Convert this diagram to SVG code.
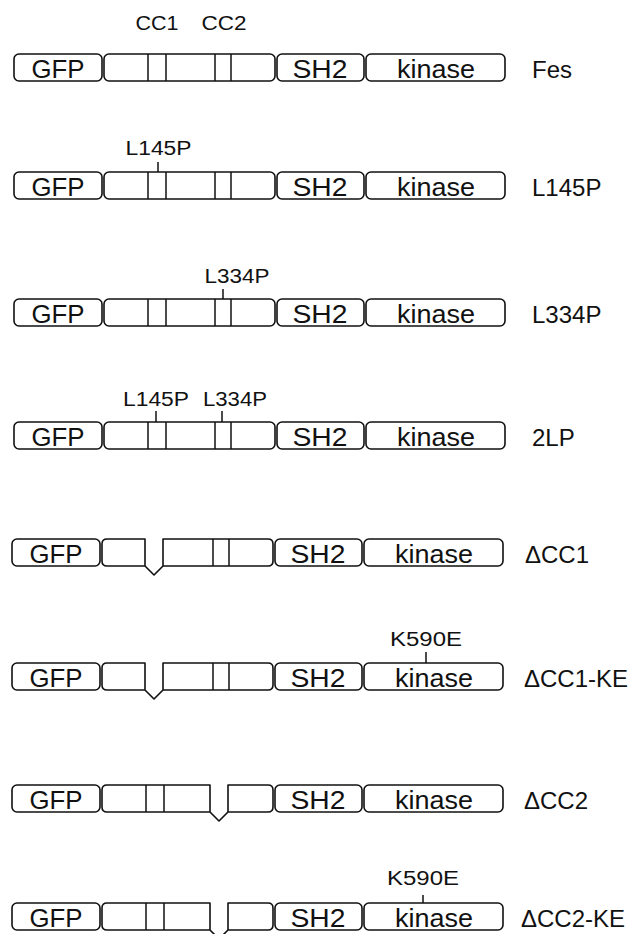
<svg xmlns="http://www.w3.org/2000/svg" xmlns:xlink="http://www.w3.org/1999/xlink" width="644" height="934" viewBox="0 0 644 934">
  <style>
    .b{fill:none;stroke:#111;stroke-width:1.6;stroke-linejoin:round}
    .d{stroke:#111;stroke-width:1.5}
    .t{font-family:"Liberation Sans",Arial,Helvetica,sans-serif;fill:#111}
    .in{font-size:25px;text-anchor:middle}
    .lab{font-size:24px}
    .mut{font-size:20px;text-anchor:middle}
  </style>
  <defs>
    <g id="gfp">
      <rect class="b" x="14" y="0" width="88" height="27" rx="5"/>
      <text class="t in" x="58" y="24" textLength="53" lengthAdjust="spacingAndGlyphs">GFP</text>
    </g>
    <rect id="mid" class="b" x="104" y="0" width="171" height="27" rx="5"/>
    <g id="cc1"><line class="d" x1="148" y1="0" x2="148" y2="27"/><line class="d" x1="166" y1="0" x2="166" y2="27"/></g>
    <g id="cc2"><line class="d" x1="215" y1="0" x2="215" y2="27"/><line class="d" x1="231" y1="0" x2="231" y2="27"/></g>
    <g id="sh2">
      <rect class="b" x="277" y="0" width="87" height="27" rx="5"/>
      <text class="t in" x="320" y="24" textLength="55" lengthAdjust="spacingAndGlyphs">SH2</text>
    </g>
    <g id="kin">
      <rect class="b" x="366" y="0" width="139" height="27" rx="5"/>
      <text class="t in" x="436" y="24" textLength="78" lengthAdjust="spacingAndGlyphs">kinase</text>
    </g>
    <!-- middle region with CC1 removed: two segments joined by a V notch -->
    <path id="dcc1" class="b" d="M147,0 H109 Q104,0 104,5 V22 Q104,27 109,27 H147 Z M147,27 L156,36 L165,27 M165,0 H270 Q275,0 275,5 V22 Q275,27 270,27 H165 Z"/>
    <!-- middle region with CC2 removed -->
    <path id="dcc2" class="b" d="M212,0 H109 Q104,0 104,5 V22 Q104,27 109,27 H212 Z M212,27 L221,36 L230,27 M230,0 H270 Q275,0 275,5 V22 Q275,27 270,27 H230 Z"/>
  </defs>

  <!-- coiled-coil headers -->
  <g id="header">
    <text class="t mut" x="157" y="30" font-size="19" textLength="43" lengthAdjust="spacingAndGlyphs">CC1</text>
    <text class="t mut" x="224" y="30" font-size="19" textLength="45" lengthAdjust="spacingAndGlyphs">CC2</text>
  </g>

  <g id="row-fes" transform="translate(0,54)">
    <use xlink:href="#gfp"/><use xlink:href="#mid"/><use xlink:href="#cc1"/><use xlink:href="#cc2"/><use xlink:href="#sh2"/><use xlink:href="#kin"/>
    <text class="t lab" x="532" y="24">Fes</text>
  </g>

  <g id="row-l145p" transform="translate(0,172)">
    <use xlink:href="#gfp"/><use xlink:href="#mid"/><use xlink:href="#cc1"/><use xlink:href="#cc2"/><use xlink:href="#sh2"/><use xlink:href="#kin"/>
    <line class="d" x1="158" y1="-10" x2="158" y2="0"/>
    <text class="t mut" x="158.5" y="-17" textLength="66" lengthAdjust="spacingAndGlyphs">L145P</text>
    <text class="t lab" x="532" y="24">L145P</text>
  </g>

  <g id="row-l334p" transform="translate(0,299)">
    <use xlink:href="#gfp"/><use xlink:href="#mid"/><use xlink:href="#cc1"/><use xlink:href="#cc2"/><use xlink:href="#sh2"/><use xlink:href="#kin"/>
    <line class="d" x1="223" y1="-10" x2="223" y2="0"/>
    <text class="t mut" x="237" y="-16" textLength="65" lengthAdjust="spacingAndGlyphs">L334P</text>
    <text class="t lab" x="532" y="24">L334P</text>
  </g>

  <g id="row-2lp" transform="translate(0,422)">
    <use xlink:href="#gfp"/><use xlink:href="#mid"/><use xlink:href="#cc1"/><use xlink:href="#cc2"/><use xlink:href="#sh2"/><use xlink:href="#kin"/>
    <line class="d" x1="156" y1="-11" x2="156" y2="0"/>
    <line class="d" x1="222" y1="-11" x2="222" y2="0"/>
    <text class="t mut" x="156" y="-16" textLength="66" lengthAdjust="spacingAndGlyphs">L145P</text>
    <text class="t mut" x="235" y="-16" textLength="64" lengthAdjust="spacingAndGlyphs">L334P</text>
    <text class="t lab" x="532" y="24">2LP</text>
  </g>

  <g id="row-dcc1" transform="translate(-2,539)">
    <use xlink:href="#gfp"/><use xlink:href="#dcc1"/><use xlink:href="#cc2"/><use xlink:href="#sh2"/><use xlink:href="#kin"/>
    <text class="t lab" x="527" y="24">ΔCC1</text>
  </g>

  <g id="row-dcc1-ke" transform="translate(-2,663)">
    <use xlink:href="#gfp"/><use xlink:href="#dcc1"/><use xlink:href="#cc2"/><use xlink:href="#sh2"/><use xlink:href="#kin"/>
    <line class="d" x1="428" y1="-11" x2="428" y2="0"/>
    <text class="t mut" x="428" y="-17" textLength="72" lengthAdjust="spacingAndGlyphs">K590E</text>
    <text class="t lab" x="526" y="24">ΔCC1-KE</text>
  </g>

  <g id="row-dcc2" transform="translate(-2,785)">
    <use xlink:href="#gfp"/><use xlink:href="#dcc2"/><use xlink:href="#cc1"/><use xlink:href="#sh2"/><use xlink:href="#kin"/>
    <text class="t lab" x="526" y="24">ΔCC2</text>
  </g>

  <g id="row-dcc2-ke" transform="translate(-2,903)">
    <use xlink:href="#gfp"/><use xlink:href="#dcc2"/><use xlink:href="#cc1"/><use xlink:href="#sh2"/><use xlink:href="#kin"/>
    <line class="d" x1="425" y1="-8" x2="425" y2="0"/>
    <text class="t mut" x="425" y="-18" textLength="72" lengthAdjust="spacingAndGlyphs">K590E</text>
    <text class="t lab" x="523" y="24">ΔCC2-KE</text>
  </g>
</svg>
